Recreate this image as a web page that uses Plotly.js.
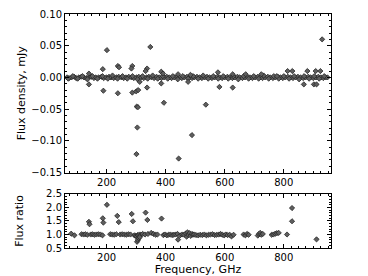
<!DOCTYPE html>
<html>
<head>
<meta charset="utf-8">
<script src="https://cdn.plot.ly/plotly-3.0.1.min.js"></script>
<style>html,body{margin:0;padding:0;background:#fff;}#chart{width:368px;height:276px;}</style>
</head>
<body>
<div id="chart"></div>
<script>
// Top panel: flux density vs frequency (GHz, mJy)
var freqFlux = [
  66, 73, 81, 90, 97, 106, 114, 123, 131, 139, 148, 157, 164, 173, 182, 190, 199, 208, 215, 224, 233, 241, 250, 258, 266, 275, 284, 292, 301, 309, 318, 326, 335, 343, 352, 361, 369, 378, 386, 395, 404, 412, 420, 429, 438, 446, 455, 463, 472, 481, 489, 497, 506, 515, 523, 532, 540, 549, 557, 566, 575, 583, 591, 600, 609, 617, 626, 634, 643, 651, 660, 669, 677, 686, 694, 703, 712, 720, 728, 737, 746, 754, 763, 771, 780, 789, 797, 805, 814, 823, 831, 840, 848, 857, 866, 874, 883, 891, 900, 909, 917, 926, 934, 942, 948,
  70, 86, 102, 118, 135, 152, 169, 186, 204, 220, 237, 254, 270, 288, 305, 322, 339, 356, 373, 390, 407, 424, 441, 458, 476, 493, 510, 527, 544, 561, 578, 595, 612, 629, 646, 664, 681, 698, 715, 732, 749, 766, 783, 800, 818, 835, 852, 869, 886, 903, 920, 937,
  201, 348, 140, 140, 189, 187, 238, 242, 238, 287, 284, 287, 300, 307, 302, 306, 304, 301, 312, 337, 332, 337, 385, 391, 385, 394, 442, 444, 476, 484, 489, 536, 577, 582, 627, 627, 671, 724, 777, 813, 829, 880, 908, 924, 868, 902, 911, 930
];
var fluxDensity = [
  0.000, -0.001, 0.000, 0.001, -0.001, 0.000, 0.001, 0.000, -0.001, 0.000, 0.001, -0.001, 0.000, 0.000, 0.001, -0.001, 0.000, 0.001, 0.000, -0.001, 0.000, 0.001, 0.000, -0.001, 0.000, 0.001, 0.000, -0.001, 0.000, 0.001, 0.000, -0.001, 0.000, 0.001, 0.000, -0.001, 0.001, 0.000, -0.001, 0.000, 0.001, 0.000, -0.001, 0.000, 0.001, 0.000, -0.001, 0.000, 0.001, 0.000, -0.001, 0.000, 0.001, 0.000, -0.001, 0.000, 0.001, 0.000, -0.001, 0.000, 0.001, 0.000, -0.001, 0.000, 0.001, 0.000, -0.001, 0.000, 0.001, 0.000, -0.001, 0.000, 0.001, 0.000, -0.001, 0.000, 0.001, 0.000, -0.001, 0.000, 0.001, 0.000, -0.001, 0.000, 0.001, 0.000, -0.001, 0.000, 0.001, 0.000, -0.001, 0.000, 0.001, 0.000, -0.001, 0.000, 0.001, 0.000, -0.001, 0.000, 0.001, 0.000, -0.001, 0.000, 0.000,
  -0.002, 0.002, -0.002, 0.002, -0.003, 0.002, -0.002, 0.002, -0.002, 0.003, -0.002, 0.002, -0.002, 0.002, -0.003, 0.002, -0.002, 0.003, -0.002, 0.002, -0.002, 0.002, -0.003, 0.002, -0.002, 0.002, -0.002, 0.003, -0.002, 0.002, -0.002, 0.002, -0.002, 0.002, -0.003, 0.002, -0.002, 0.002, -0.002, 0.003, -0.002, 0.002, -0.002, 0.002, -0.002, 0.002, -0.003, 0.002, -0.002, 0.002, -0.002, 0.002,
  0.043, 0.048, 0.006, -0.011, -0.021, 0.013, 0.018, 0.016, -0.025, 0.018, 0.014, -0.024, -0.022, -0.020, -0.046, -0.047, -0.079, -0.121, -0.007, 0.014, 0.010, -0.016, 0.009, 0.006, -0.0095, -0.040, 0.005, -0.128, -0.007, 0.004, -0.091, -0.043, 0.008, -0.015, 0.005, -0.016, 0.005, 0.005, 0.002, 0.010, 0.010, 0.010, 0.010, 0.010, -0.011, -0.011, -0.011, 0.060
];

// Bottom panel: flux ratio vs frequency
var freqRatio = [
  80, 91, 115, 122, 128, 135, 146, 152, 158, 165, 172, 179, 186, 212, 219, 226, 233, 246, 253, 260, 267, 274, 281, 294, 298, 302, 305, 308, 311, 316, 322, 330, 340, 351, 359, 366, 372, 392, 398, 404, 410, 416, 422, 428, 434, 440, 449, 456, 462, 468, 471, 474, 477, 481, 485, 489, 493, 497, 503, 510, 517, 524, 531, 538, 545, 552, 559, 566, 573, 580, 586, 592, 598, 604, 610, 617, 623, 630, 664, 670, 676, 681, 712, 716, 720, 724, 729, 759, 765, 771, 777, 783, 811,
  140, 142, 187, 189, 201, 236, 241, 285, 289, 332, 338, 386, 828, 828, 442, 303, 306, 309, 312, 911
];
var fluxRatio = [
  1.03, 0.97, 1.01, 1.00, 1.01, 0.99, 1.00, 1.01, 0.99, 1.00, 1.01, 1.00, 0.97, 1.01, 1.00, 0.99, 1.01, 1.00, 1.01, 1.00, 0.99, 1.01, 1.00, 0.97, 0.95, 0.93, 0.98, 0.96, 1.00, 0.99, 1.02, 1.00, 1.02, 1.06, 1.02, 0.99, 1.00, 0.98, 1.00, 0.97, 0.99, 1.00, 0.98, 0.99, 1.00, 1.02, 0.97, 1.00, 0.99, 1.04, 0.92, 1.08, 0.98, 1.05, 0.95, 1.02, 0.99, 1.00, 0.98, 0.97, 0.99, 0.98, 1.00, 0.97, 0.99, 1.00, 1.01, 0.98, 0.99, 1.00, 1.02, 0.99, 0.97, 1.00, 0.98, 0.99, 0.93, 0.99, 1.00, 0.97, 1.02, 0.99, 0.96, 1.02, 1.06, 0.99, 1.02, 0.99, 1.00, 1.03, 1.05, 1.06, 1.00,
  1.47, 1.38, 1.60, 1.44, 2.10, 1.69, 1.46, 1.76, 1.49, 1.81, 1.54, 1.59, 1.98, 1.49, 0.81, 0.73, 0.80, 0.86, 0.90, 0.82
];

var markerStyle = {symbol: 'diamond', size: 4, color: '#5e5e5e', line: {color: '#262626', width: 0.8}};
var fontFam = 'DejaVu Sans, Liberation Sans, sans-serif';
var titleFont = {family: fontFam, size: 11, color: '#000'};

var traces = [
  {x: freqFlux, y: fluxDensity, type: 'scatter', mode: 'markers', marker: markerStyle, xaxis: 'x', yaxis: 'y', showlegend: false, hoverinfo: 'x+y'},
  {x: freqRatio, y: fluxRatio, type: 'scatter', mode: 'markers', marker: markerStyle, xaxis: 'x2', yaxis: 'y2', showlegend: false, hoverinfo: 'x+y'}
];

var axisCommon = {
  showline: true, linecolor: '#000', linewidth: 1, mirror: 'allticks',
  ticks: 'inside', ticklen: 4, tickwidth: 1, tickcolor: '#000',
  showgrid: false, zeroline: false,
  tickfont: {family: fontFam, size: 10, color: '#000'}
};

function ax(extra) { return Object.assign({}, axisCommon, extra); }

var layout = {
  width: 368, height: 276,
  margin: {l: 65, r: 37, t: 14, b: 28, pad: 0},
  paper_bgcolor: '#fff', plot_bgcolor: '#fff',
  font: {family: fontFam, size: 10, color: '#000'},
  xaxis: ax({range: [59, 960], dtick: 200, tick0: 0, anchor: 'y',
    minor: {dtick: 25, ticks: 'inside', ticklen: 2, tickcolor: '#000'}}),
  yaxis: ax({domain: [0.3226, 1], range: [-0.15, 0.10], dtick: 0.05, tick0: 0, tickformat: '.2f', anchor: 'x',
    minor: {dtick: 0.01, ticks: 'inside', ticklen: 2, tickcolor: '#000'},
    title: {text: 'Flux density, mJy', font: titleFont, standoff: 3}}),
  xaxis2: ax({range: [59, 960], dtick: 200, tick0: 0, anchor: 'y2', matches: 'x',
    minor: {dtick: 25, ticks: 'inside', ticklen: 2, tickcolor: '#000'},
    title: {text: 'Frequency, GHz', font: titleFont, standoff: 1}}),
  yaxis2: ax({domain: [0, 0.2308], range: [0.5, 2.5], dtick: 0.5, tick0: 0, tickformat: '.1f', anchor: 'x2',
    minor: {dtick: 0.1, ticks: 'inside', ticklen: 2, tickcolor: '#000'},
    title: {text: 'Flux ratio', font: titleFont, standoff: 20}})
};

Plotly.newPlot('chart', traces, layout, {staticPlot: true, displayModeBar: false});
</script>
</body>
</html>
